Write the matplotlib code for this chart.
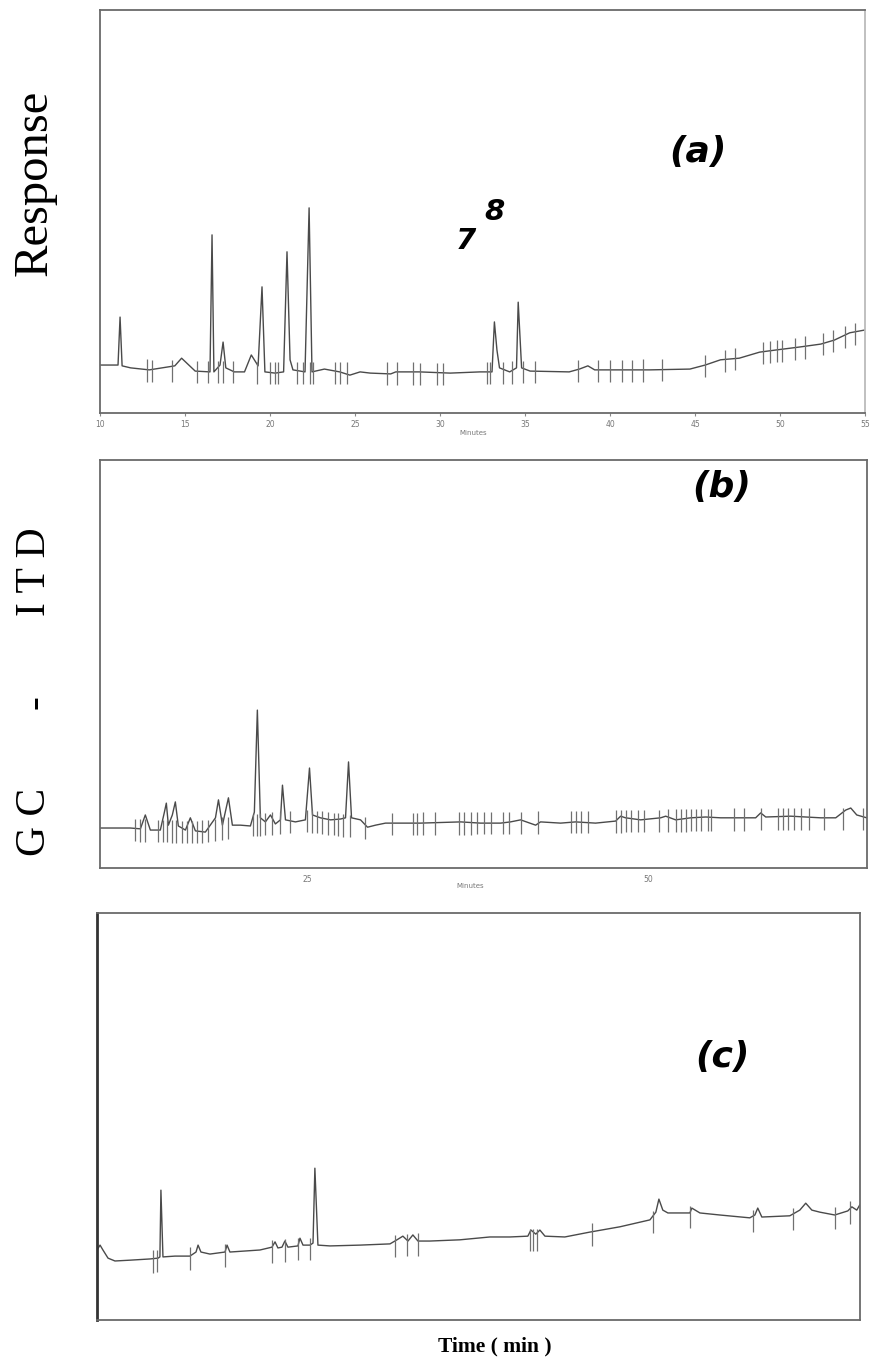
import numpy as np
import matplotlib
matplotlib.use("Agg")
import matplotlib.pyplot as plt

# ---- panel (a): trace (minutes, response units 0-100)
trace_a_t = [10.0, 11.06, 11.18, 11.3, 11.8, 12.9, 14.4, 14.8, 15.6, 16.47, 16.59, 16.7,
             17.06, 17.24, 17.4, 17.9, 18.5, 18.9, 19.3, 19.53, 19.7, 20.3, 20.8, 21.0,
             21.18, 21.35, 22.06, 22.3, 22.47, 23.2, 24.1, 24.7, 25.3, 25.9, 27.1, 27.4,
             28.8, 30.6, 32.35, 33.06, 33.2, 33.35, 33.5, 34.1, 34.5, 34.6, 34.8, 35.3,
             37.6, 38.2, 38.7, 39.1, 42.35, 44.7, 45.6, 46.5, 47.6, 48.8, 49.7, 51.2,
             52.4, 53.2, 54.1, 55.0]
trace_a_y = [11.9, 11.9, 23.8, 11.7, 11.2, 10.7, 11.7, 13.6, 10.4, 10.2, 44.2, 10.2,
             11.9, 17.6, 11.2, 10.2, 10.2, 14.4, 11.7, 31.3, 10.2, 9.9, 10.2, 40.0,
             13.2, 10.7, 10.2, 50.9, 10.2, 10.9, 10.2, 9.4, 10.2, 9.9, 9.7, 10.2,
             10.2, 9.9, 10.2, 10.2, 22.6, 15.6, 11.2, 10.2, 11.2, 27.5, 11.2, 10.4,
             10.2, 10.9, 11.7, 10.7, 10.7, 10.9, 11.9, 13.2, 13.6, 15.1, 15.6, 16.4,
             17.1, 18.1, 19.9, 20.6]
base_a_t = [10, 13, 20, 30, 40, 44.7, 47, 49, 52, 55]
base_a_y = [11.9, 10.7, 10.2, 10.0, 10.7, 10.9, 13.4, 15.1, 16.8, 20.6]
marks_a = [12.76, 13.06, 14.24, 15.71, 16.35, 16.94, 17.24, 17.82, 19.24, 20.0, 20.29,
           20.47, 21.59, 21.94, 22.35, 22.53, 23.82, 24.12, 24.53, 26.88, 27.47, 28.41,
           28.82, 29.82, 30.18, 32.76, 32.94, 33.71, 34.24, 34.88, 35.59, 38.12, 39.29,
           40.0, 40.71, 41.29, 41.94, 43.06, 45.59, 46.76, 47.35, 49.0, 49.41, 49.82,
           50.12, 50.88, 51.47, 52.53, 53.12, 53.82, 54.41]
ticks_a = [10, 15, 20, 25, 30, 35, 40, 45, 50, 55]

# ---- panel (b)
trace_b_t = [9.82, 12.02, 12.76, 13.12, 13.49, 14.22, 14.52, 14.66, 14.81, 15.10, 15.32,
             15.54, 16.06, 16.42, 16.79, 17.52, 18.26, 18.48, 18.77, 19.21, 19.50, 20.09,
             20.82, 21.11, 21.33, 21.55, 21.92, 22.29, 22.65, 23.02, 23.17, 23.39, 24.12,
             24.85, 25.15, 25.37, 25.95, 26.69, 27.42, 27.79, 28.01, 28.23, 28.89, 29.40,
             29.99, 30.72, 33.28, 36.22, 37.68, 39.15, 39.88, 40.62, 41.72, 42.08, 43.55,
             44.65, 46.11, 47.58, 47.95, 48.31, 49.41, 50.88, 51.25, 51.98, 53.08, 54.18,
             55.28, 56.75, 57.84, 58.21, 58.58, 60.41, 62.61, 63.71, 64.44, 64.81, 65.25,
             65.98]
trace_b_y = [9.8, 9.8, 9.6, 13.0, 9.3, 9.3, 13.7, 15.9, 10.5, 13.0, 16.2,
             10.3, 9.3, 12.3, 9.1, 8.8, 12.3, 16.7, 10.5, 17.2, 10.5, 10.5,
             10.3, 13.7, 38.7, 12.3, 11.3, 13.0, 10.8, 11.8, 20.3, 11.8, 11.3,
             11.8, 24.5, 13.0, 12.3, 11.8, 12.0, 12.3, 26.0, 12.3, 11.8, 10.0,
             10.5, 11.0, 11.0, 11.3, 11.0, 11.0, 11.3, 11.8, 10.5, 11.3, 11.0,
             11.3, 11.0, 11.5, 12.7, 12.3, 11.8, 12.3, 12.7, 11.8, 12.3, 12.5,
             12.3, 12.3, 12.3, 13.5, 12.5, 12.7, 12.3, 12.3, 14.2, 14.7, 13.0,
             12.3]
base_b_t = [10, 17, 20, 25, 29.4, 30, 40, 50, 60, 66]
base_b_y = [9.8, 9.0, 10.5, 11.8, 10.0, 11.0, 11.3, 11.8, 12.3, 12.3]
marks_b = [12.39, 12.76, 13.12, 14.08, 14.44, 14.74, 15.10, 15.40, 15.84, 16.20, 16.57,
           16.94, 17.30, 17.74, 18.26, 18.77, 19.21, 21.04, 21.33, 21.55, 21.92, 22.43,
           23.02, 23.75, 25.0, 25.37, 25.73, 26.10, 26.54, 26.91, 27.27, 27.64, 28.15,
           29.25, 31.23, 32.70, 33.06, 33.50, 34.38, 36.07, 36.44, 36.95, 37.46, 37.90,
           38.42, 39.30, 39.74, 40.62, 41.86, 44.28, 44.65, 45.01, 45.53, 47.58, 47.95,
           48.31, 48.68, 49.19, 49.63, 50.73, 51.39, 51.98, 52.35, 52.71, 53.08, 53.45,
           53.81, 54.33, 54.55, 56.23, 56.96, 58.21, 59.46, 59.82, 60.19, 60.63, 61.14,
           61.73, 62.83, 64.22, 65.69]
ticks_b = [25, 50]

# ---- panel (c)
trace_c_t = [10.0, 10.18, 10.35, 10.65, 11.06, 11.95, 13.13, 13.6, 13.71, 13.77, 13.89,
             14.6, 15.48, 15.84, 15.96, 16.13, 16.66, 17.55, 17.67, 17.84, 19.61, 20.32,
             20.5, 20.67, 20.91, 21.08, 21.26, 21.85, 21.97, 22.15, 22.56, 22.74, 22.85,
             23.03, 23.74, 25.51, 27.28, 27.69, 28.04, 28.34, 28.63, 28.93, 29.63, 31.4,
             33.17, 34.35, 35.41, 35.59, 35.88, 36.12, 36.42, 37.59, 39.07, 40.84, 42.61,
             42.96, 43.14, 43.37, 43.67, 44.38, 44.97, 45.08, 45.56, 46.73, 48.5, 48.8,
             48.97, 49.21, 50.86, 51.45, 51.8, 52.16, 52.63, 53.51, 54.28, 54.52, 54.81,
             54.99]
trace_c_y = [17.2, 18.4, 17.2, 15.2, 14.5, 14.7, 15.0, 15.2, 15.5, 31.9, 15.5,
             15.7, 15.7, 16.7, 18.4, 16.7, 16.2, 16.7, 18.4, 16.7, 17.2, 17.9,
             19.2, 17.7, 17.9, 19.4, 17.9, 18.2, 20.1, 18.4, 18.4, 18.9, 37.3,
             18.4, 18.2, 18.4, 18.7, 19.7, 20.6, 19.4, 20.9, 19.4, 19.4, 19.7,
             20.4, 20.4, 20.6, 22.1, 21.1, 22.1, 20.6, 20.4, 21.6, 22.9, 24.6,
             26.5, 29.7, 27.0, 26.3, 26.3, 26.3, 27.5, 26.3, 25.8, 25.1, 25.8,
             27.5, 25.3, 25.6, 27.0, 28.7, 27.0, 26.5, 25.8, 26.8, 27.8, 27.0,
             28.3]
base_c_t = [10.2, 11, 14, 17.8, 22, 27, 33, 37.6, 42.6, 44, 48.5, 51, 53.5, 55]
base_c_y = [17.5, 14.5, 15.3, 16.7, 18.2, 18.8, 20.4, 20.4, 24.6, 26.3, 25.1, 25.6, 25.8, 28.0]
marks_c = [13.3, 13.54, 15.48, 17.55, 20.32, 21.08, 21.85, 22.56, 27.57, 28.28, 28.93,
           35.53, 35.71, 35.94, 39.19, 42.78, 44.97, 48.68, 51.04, 53.51, 54.4]

W, H = 871, 1367
fig = plt.figure(figsize=(W / 100, H / 100), dpi=100)

def px_axes(x0, x1, y0, y1):
    return fig.add_axes([x0 / W, 1 - y1 / H, (x1 - x0) / W, (y1 - y0) / H])

def draw(ax, tt, yy, bt, by, marks, xlim, up=2.5, down=3.0):
    ax.plot(tt, yy, color='#4a4a4a', lw=1.0)
    mb = np.interp(marks, bt, by)
    ax.vlines(marks, mb - down, mb + up, color='#707070', lw=0.9)
    ax.set_xlim(*xlim)
    ax.set_ylim(0, 100)
    ax.set_yticks([])
    for s in ax.spines.values():
        s.set_color('#6a6a6a')
        s.set_linewidth(1.3)

ax1 = px_axes(100, 865, 10, 413)
draw(ax1, trace_a_t, trace_a_y, base_a_t, base_a_y, marks_a, (10, 55))
ax1.set_xticks(ticks_a)
ax1.tick_params(axis='x', length=2, color='#888888', labelsize=5.5,
                labelcolor='#777777', pad=3)
ax1.spines['right'].set_color('#bbbbbb')

ax2 = px_axes(100, 867, 460, 868)
draw(ax2, trace_b_t, trace_b_y, base_b_t, base_b_y, marks_b, (9.8, 66.0))
ax2.set_xticks(ticks_b)
ax2.tick_params(axis='x', length=0, labelsize=5.5, labelcolor='#777777', pad=5)

ax3 = px_axes(97, 860, 913, 1320)
draw(ax3, trace_c_t, trace_c_y, base_c_t, base_c_y, marks_c, (10, 55), up=2.0, down=3.5)
ax3.set_xticks([])
ax3.spines['left'].set_linewidth(2.0)
ax3.spines['left'].set_color('#333333')

def ftext(x, y, s, **kw):
    fig.text(x / W, 1 - y / H, s, ha='center', va='center', **kw)

ftext(473, 433, 'Minutes', fontsize=5, color='#777777')
ftext(470, 886, 'Minutes', fontsize=5, color='#777777')

tag = dict(fontweight='heavy', fontstyle='italic', family='DejaVu Sans', color='black')
ftext(698, 152, '(a)', fontsize=26, **tag)
ftext(722, 487, '(b)', fontsize=26, **tag)
ftext(722, 1057, '(c)', fontsize=26, **tag)
ftext(466, 241, '7', fontsize=21, **tag)
ftext(494, 212, '8', fontsize=21, **tag)

serif = dict(family='Liberation Serif', rotation=90, color='black')
ftext(35, 183, 'Response', fontsize=35, **serif)
ftext(35, 572, 'I T D', fontsize=30, **serif)
ftext(35, 702, '-', fontsize=30, **serif)
ftext(35, 822, 'G C', fontsize=30, **serif)

ftext(495, 1346, 'Time ( min )', fontsize=15.5, family='Liberation Serif',
      fontweight='bold', color='black')

fig.savefig('out.png', dpi=100)
